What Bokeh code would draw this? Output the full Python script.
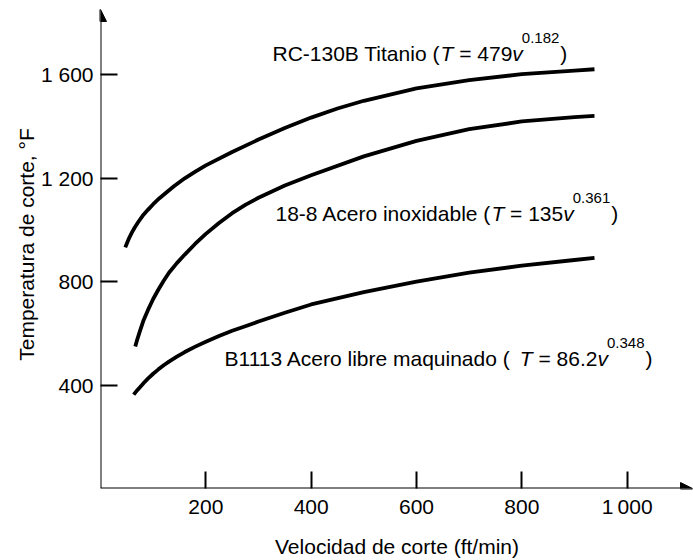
from bokeh.plotting import figure
from bokeh.models import Range1d, FixedTicker, Arrow, NormalHead
from bokeh.embed import file_html
from bokeh.resources import INLINE
from bokeh.core.properties import value

# ---------------- data ----------------
ti_v = [47, 51, 55, 60, 65, 72, 80, 90, 100, 112, 125, 140, 160, 180, 200, 250, 300, 350, 400,
        450, 500, 600, 700, 800, 900, 938]
ti_T = [933, 953, 972, 992, 1010, 1032, 1055, 1078, 1100, 1123, 1145, 1170, 1200, 1226, 1250, 1302,
        1350, 1395, 1435, 1470, 1500, 1548, 1580, 1603, 1617, 1622]

inox_v = [66, 70, 75, 82, 90, 100, 110, 120, 130, 145, 160, 180, 200, 225, 250, 275, 300, 350, 400,
          500, 600, 700, 800, 900, 938]
inox_T = [549, 578, 610, 652, 690, 733, 770, 804, 835, 872, 905, 947, 985, 1027, 1065, 1097, 1125,
          1172, 1212, 1285, 1345, 1390, 1420, 1437, 1442]

b_v = [63, 68, 75, 82, 90, 100, 110, 120, 130, 145, 160, 180, 200, 225, 250, 275, 300, 350, 400,
       500, 600, 700, 800, 900, 938]
b_T = [363, 376, 392, 408, 425, 444, 461, 477, 491, 510, 528, 549, 568, 590, 610, 628, 646, 680, 712,
       760, 800, 835, 862, 884, 892]

x_ticks = [200, 400, 600, 800, 1000]
x_tick_labels = ["200", "400", "600", "800", "1\u2009000"]
y_ticks = [400, 800, 1200, 1600]
y_tick_labels = ["400", "800", "1 200", "1 600"]

x_title = "Velocidad de corte (ft/min)"
y_title = "Temperatura de corte, °F"

label_names = ["RC-130B Titanio (", "18-8 Acero inoxidable (", "B1113 Acero libre maquinado ( "]
label_coef = ["479", "135", "86.2"]
label_exp = ["0.182", "0.361", "0.348"]

# ---------------- layout ----------------
W, H = 693, 560
FRAME_L, FRAME_R, FRAME_T, FRAME_B = 100, 693, 0, 491
X_END = 1126.0
Y_END = 1888.0
FONT = "Liberation Sans"
FS = 21
SUP_FS = 15
TEXT_SHIFT = -6  # compensate renderer baseline offset


def px_to_x(px):
    return (px - FRAME_L) * X_END / (FRAME_R - FRAME_L)


def px_to_y(py):
    return (FRAME_B - py) * Y_END / (FRAME_B - FRAME_T)


# Arial / Liberation Sans advance widths (per 1000 em)
AW = {" ": 278, "(": 333, ")": 333, "-": 333, ".": 278, "=": 584,
      "A": 667, "B": 667, "C": 722, "R": 722, "T": 611,
      "a": 556, "b": 556, "c": 500, "d": 556, "e": 556, "i": 222, "l": 222,
      "m": 833, "n": 556, "o": 556, "q": 556, "r": 333, "t": 278, "u": 556,
      "x": 500, "v": 500}
for dch in "0123456789":
    AW[dch] = 556


def tw(s, fs):
    return sum(AW.get(c, 556) for c in s) * fs / 1000.0


p = figure(width=W, height=H,
           x_range=Range1d(0, X_END), y_range=Range1d(0, Y_END),
           min_border_left=FRAME_L, min_border_right=0, min_border_top=FRAME_T,
           min_border_bottom=H - FRAME_B,
           toolbar_location=None, output_backend="svg")
p.outline_line_color = None
p.xgrid.visible = False
p.ygrid.visible = False
p.background_fill_color = "white"
p.border_fill_color = "white"

# axes
for ax in (p.xaxis[0], p.yaxis[0]):
    ax.axis_line_color = None
    ax.major_tick_in = 17
    ax.major_tick_out = 0
    ax.minor_tick_line_color = None
    ax.major_tick_line_width = 2
    ax.major_tick_line_color = "black"
    ax.major_label_text_font = FONT
    ax.major_label_text_font_size = f"{FS}px"
    ax.major_label_text_color = "black"
    ax.axis_label_text_font = FONT
    ax.axis_label_text_font_size = f"{FS}px"
    ax.axis_label_text_font_style = "normal"
    ax.axis_label_text_color = "black"

p.xaxis[0].ticker = FixedTicker(ticks=x_ticks)
p.xaxis[0].major_label_overrides = {t: l for t, l in zip(x_ticks, x_tick_labels)}
p.xaxis[0].axis_label = x_title
p.xaxis[0].major_label_standoff = 6
p.xaxis[0].axis_label_standoff = 14

p.yaxis[0].ticker = FixedTicker(ticks=y_ticks)
p.yaxis[0].major_label_overrides = {t: l for t, l in zip(y_ticks, y_tick_labels)}
p.yaxis[0].axis_label = y_title
p.yaxis[0].major_label_standoff = 7
p.yaxis[0].axis_label_standoff = 0
p.yaxis[0].major_label_orientation = "horizontal"

# axis lines with arrow heads
p.add_layout(Arrow(end=NormalHead(size=12, fill_color="black", line_color="black", line_width=1),
                   x_start=0, y_start=0, x_end=0, y_end=px_to_y(9),
                   line_width=2, line_color="black"))
p.add_layout(Arrow(end=NormalHead(size=12, fill_color="black", line_color="black", line_width=1),
                   x_start=0, y_start=0, x_end=px_to_x(692), y_end=0,
                   line_width=2, line_color="black"))

# curves
for vs, ts in ((ti_v, ti_T), (inox_v, inox_T), (b_v, b_T)):
    p.line(vs, ts, line_width=3.8, line_color="black", line_join="round", line_cap="butt")

# curve labels (composed of pieces: normal / italic / superscript)
anchors = [(272, 59), (275, 220), (224, 366)]
norm = {"x": [], "y": [], "t": []}
ital = {"x": [], "y": [], "t": []}
sup = {"x": [], "y": [], "t": []}
for (ax0, base), name, coef, ex in zip(anchors, label_names, label_coef, label_exp):
    base = base + TEXT_SHIFT
    x = ax0
    norm["x"].append(x); norm["y"].append(base); norm["t"].append(name.rstrip())
    x += tw(name, FS)
    ital["x"].append(x); ital["y"].append(base); ital["t"].append("T")
    x += tw("T ", FS)
    s = "= " + coef
    norm["x"].append(x); norm["y"].append(base); norm["t"].append(s)
    x += tw(s, FS)
    ital["x"].append(x); ital["y"].append(base); ital["t"].append("v")
    x += tw("v", FS) - 1
    sup["x"].append(x); sup["y"].append(base - 15); sup["t"].append(ex)
    x += tw(ex, SUP_FS) + 1
    norm["x"].append(x); norm["y"].append(base); norm["t"].append(")")

for d, fs, style in ((norm, FS, "normal"), (ital, FS, "italic"), (sup, SUP_FS, "normal")):
    p.text(x=[px_to_x(v) for v in d["x"]], y=[px_to_y(v) for v in d["y"]], text=d["t"],
           text_font=value(FONT), text_font_size=value(f"{fs}px"), text_font_style=style,
           text_align="left", text_baseline="alphabetic", text_color="black")

open("out.html", "w").write(file_html(p, INLINE))
